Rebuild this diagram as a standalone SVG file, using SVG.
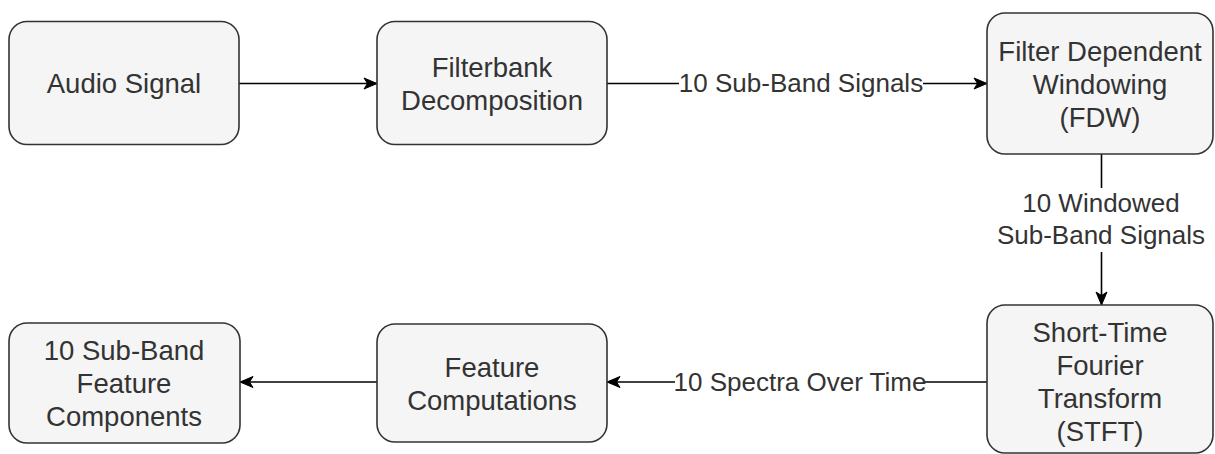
<svg xmlns="http://www.w3.org/2000/svg" width="1215" height="454" viewBox="0 0 1215 454">
<style>
.node rect{fill:#f5f5f5;stroke:#333333;stroke-width:1.6}
.node text{font-family:"Liberation Sans",Arial,sans-serif;font-size:27.5px;fill:#333333;text-anchor:middle}
.edge{stroke:#000;stroke-width:1.6;fill:none}
.lbl{font-family:"Liberation Sans",Arial,sans-serif;font-size:26px;fill:#333333;text-anchor:middle}
</style>
<defs>
<marker id="arr" markerUnits="userSpaceOnUse" markerWidth="16" markerHeight="14" refX="14" refY="7" orient="auto">
<path d="M1,1.5 L14,7 L1,12.5 L4.5,7 z" fill="#000" stroke="#000" stroke-width="1"/>
</marker>
</defs>
<rect width="1215" height="454" fill="#fff"/>
<g id="connectors">
<path class="edge" d="M239,83.5 L377,83.5" marker-end="url(#arr)"/>
<path class="edge" d="M607,83.5 L679,83.5"/>
<path class="edge" d="M923,83.5 L987,83.5" marker-end="url(#arr)"/>
<text class="lbl" x="801" y="92">10 Sub-Band Signals</text>
<path class="edge" d="M1101.5,154 L1101.5,188"/>
<path class="edge" d="M1101.5,252 L1101.5,305" marker-end="url(#arr)"/>
<text class="lbl" x="1101" y="212">10 Windowed</text>
<text class="lbl" x="1101" y="244">Sub-Band Signals</text>
<path class="edge" d="M987,382 L925,382"/>
<path class="edge" d="M675,382 L607,382" marker-end="url(#arr)"/>
<text class="lbl" x="800" y="391">10 Spectra Over Time</text>
<path class="edge" d="M377,382 L240,382" marker-end="url(#arr)"/>
</g>
<g id="audio" class="node">
<rect x="9" y="21.5" width="230" height="123" rx="18"/>
<text x="124" y="93">Audio Signal</text>
</g>
<g id="filterbank" class="node">
<rect x="377" y="21.5" width="230" height="123" rx="18"/>
<text x="492" y="77">Filterbank</text>
<text x="492" y="110">Decomposition</text>
</g>
<g id="fdw" class="node">
<rect x="987" y="13" width="226" height="141" rx="18"/>
<text x="1100" y="61">Filter Dependent</text>
<text x="1100" y="94">Windowing</text>
<text x="1100" y="127">(FDW)</text>
</g>
<g id="stft" class="node">
<rect x="987" y="305" width="226" height="148" rx="18"/>
<text x="1100" y="342">Short-Time</text>
<text x="1100" y="375">Fourier</text>
<text x="1100" y="408">Transform</text>
<text x="1100" y="441">(STFT)</text>
</g>
<g id="features" class="node">
<rect x="377" y="324" width="230" height="118" rx="18"/>
<text x="492" y="377">Feature</text>
<text x="492" y="410">Computations</text>
</g>
<g id="components" class="node">
<rect x="9" y="323" width="231" height="120" rx="18"/>
<text x="124" y="360">10 Sub-Band</text>
<text x="124" y="393">Feature</text>
<text x="124" y="426">Components</text>
</g>
</svg>
